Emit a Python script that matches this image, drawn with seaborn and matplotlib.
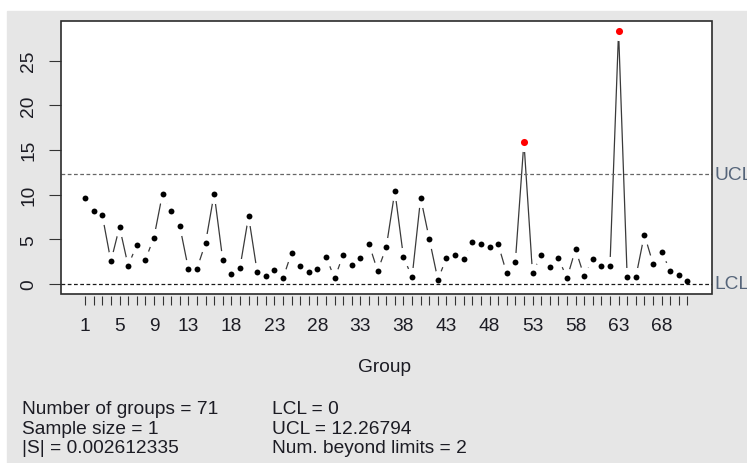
import matplotlib
matplotlib.use("Agg")
import matplotlib.pyplot as plt
from matplotlib.patches import Rectangle
import pandas as pd
import seaborn as sns

# Individual statistics per group
group = list(range(1, 72))
stat = [9.63, 8.17, 7.68, 2.53, 6.38, 2.05, 4.32, 2.69, 5.18, 10.11,
        8.17, 6.49, 1.71, 1.71, 4.59, 10.11, 2.69, 1.08, 1.83, 7.57,
        1.34, 0.85, 1.56, 0.63, 3.50, 2.05, 1.34, 1.71, 3.02, 0.63,
        3.25, 2.16, 2.91, 4.44, 1.46, 4.10, 10.37, 3.02, 0.74, 9.63,
        5.04, 0.48, 2.91, 3.25, 2.76, 4.70, 4.44, 4.10, 4.44, 1.19,
        2.42, 15.90, 1.19, 3.25, 1.94, 2.91, 0.63, 3.87, 0.85, 2.76,
        2.05, 2.05, 28.29, 0.74, 0.74, 5.52, 2.27, 3.62, 1.46, 0.97, 0.37]

lcl = 0.0
ucl = 12.26794
labeled_groups = [1, 5, 9, 13, 18, 23, 28, 33, 38, 43, 48, 53, 58, 63, 68]
y_ticks = [0, 5, 10, 15, 20, 25]

summary_left = ["Number of groups = 71", "Sample size = 1", "|S| = 0.002612335"]
summary_right = ["LCL = 0", "UCL = 12.26794", "Num. beyond limits = 2"]

df = pd.DataFrame({"group": group, "stat": stat})
df["beyond"] = (df["stat"] > ucl) | (df["stat"] < lcl)

sns.set_theme(style="white")
plt.rcParams["font.family"] = ["Liberation Sans", "DejaVu Sans"]
FS = 13.8

W, H = 747, 464
fig = plt.figure(figsize=(W / 100, H / 100), dpi=100, facecolor="white")
fig.patches.append(Rectangle((7 / W, 0), (W - 7) / W, (H - 12) / H,
                             transform=fig.transFigure, color="#e6e6e6",
                             zorder=-10))

left, right, top, bottom = 61, 711.5, 22, 295
ax = fig.add_axes([left / W, (H - bottom) / H, (right - left) / W, (bottom - top) / H])
ax.set_facecolor("white")

# connecting line with gaps around each point
sns.lineplot(data=df, x="group", y="stat", color="#3a3a3a", lw=0.9,
             errorbar=None, ax=ax, zorder=1)
sns.scatterplot(data=df, x="group", y="stat", s=190, color="white",
                linewidth=0, legend=False, ax=ax, zorder=2)

ax.axhline(ucl, color="#666666", lw=0.9, dashes=(3.0, 2.0), zorder=3)
ax.axhline(lcl, color="#1a1a1a", lw=0.9, dashes=(3.0, 2.0), zorder=3)

sns.scatterplot(data=df[~df["beyond"]], x="group", y="stat", s=18,
                color="black", linewidth=0, legend=False, ax=ax, zorder=4)
sns.scatterplot(data=df[df["beyond"]], x="group", y="stat", s=26,
                color="#ff0000", linewidth=0, legend=False, ax=ax, zorder=4)

# axis ranges with 4% padding
lo = min(min(stat), lcl)
hi = max(max(stat), ucl)
ax.set_ylim(lo - 0.04 * (hi - lo), hi + 0.04 * (hi - lo))
ax.set_xlim(group[0] - 0.04 * (group[-1] - group[0]),
            group[-1] + 0.04 * (group[-1] - group[0]))

ax.set_xticks(group)
ax.set_xticklabels([str(g) if g in labeled_groups else "" for g in group])
ax.set_yticks(y_ticks)
ax.set_yticklabels([str(v) for v in y_ticks], rotation=90, va="center")
ax.tick_params(axis="x", length=6.5, width=0.8, color="#333333", pad=8.5,
               labelsize=FS, labelcolor="#1c1c24", bottom=True)
ax.tick_params(axis="y", length=8.6, width=0.8, color="#333333", pad=8.5,
               labelsize=FS, labelcolor="#1c1c24", left=True)
ax.set_xlabel("")
ax.set_ylabel("")

for side in ["left", "right", "top", "bottom"]:
    ax.spines[side].set_color("none")
ax.spines["bottom"].set_position(("outward", 1.5))
ax.add_patch(Rectangle((0, 0), 1, 1, transform=ax.transAxes, fill=False,
                       edgecolor="#2b2b2b", lw=1.2, clip_on=False, zorder=10))

# limit labels
for val, name in [(ucl, "UCL"), (lcl, "LCL")]:
    ax.text(1.004, val, name, transform=ax.get_yaxis_transform(),
            ha="left", va="center", fontsize=FS, color="#56657a", clip_on=False)

fig.text(385 / W, 1 - 368 / H, "Group", ha="center", va="center",
         fontsize=FS, color="#1c1c24")

for i, (a, b) in enumerate(zip(summary_left, summary_right)):
    y = 1 - (410 + i * 19.5) / H
    fig.text(22 / W, y, a, ha="left", va="center", fontsize=FS, color="#1c1c24")
    fig.text(272 / W, y, b, ha="left", va="center", fontsize=FS, color="#1c1c24")

fig.savefig("out.png", dpi=100, facecolor=fig.get_facecolor())
